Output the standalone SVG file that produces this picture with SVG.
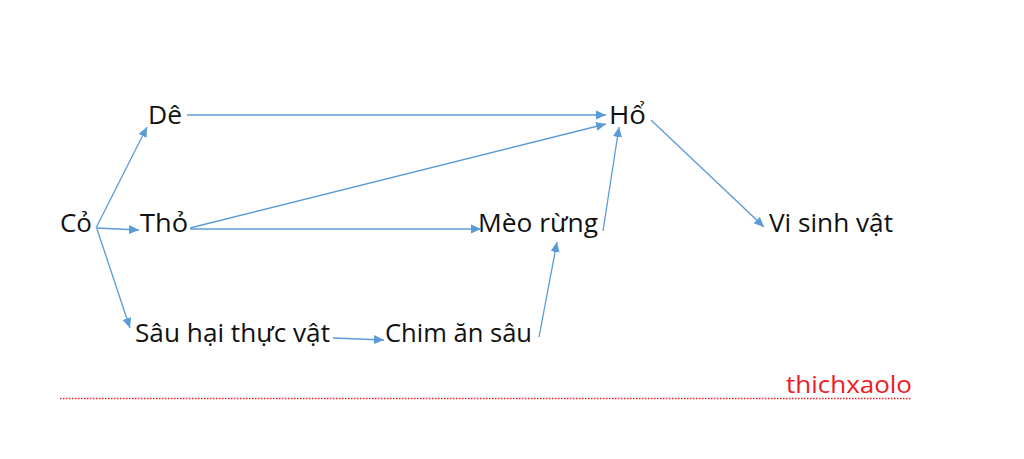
<svg xmlns="http://www.w3.org/2000/svg" width="1024" height="459" viewBox="0 0 1024 459">
<style>
text{font-family:"Open Sans","Noto Sans",sans-serif;font-size:25px;fill:#111}
.c line{stroke:#5B9BD5;stroke-width:1.3;marker-end:url(#ah)}
.w{fill:#ee1c24;font-size:23px}
</style>
<defs>
<marker id="ah" viewBox="0 0 10 10" refX="10" refY="5" markerWidth="10" markerHeight="10" markerUnits="userSpaceOnUse" orient="auto">
<path d="M0,0.5 L10,5 L0,9.5 z" fill="#5B9BD5"/>
</marker>
</defs>
<rect width="1024" height="459" fill="#fff"/>
<g id="co"><text x="60" y="232" textLength="32" lengthAdjust="spacingAndGlyphs">Cỏ</text></g>
<g id="de"><text x="148" y="124" textLength="34" lengthAdjust="spacingAndGlyphs">Dê</text></g>
<g id="tho"><text x="140" y="232" textLength="48" lengthAdjust="spacingAndGlyphs">Thỏ</text></g>
<g id="ho"><text x="609" y="124" textLength="37" lengthAdjust="spacingAndGlyphs">Hổ</text></g>
<g id="meo"><text x="478" y="232" textLength="120" lengthAdjust="spacingAndGlyphs">Mèo rừng</text></g>
<g id="vsv"><text x="769" y="232" textLength="124" lengthAdjust="spacingAndGlyphs">Vi sinh vật</text></g>
<g id="sau"><text x="135" y="342" textLength="195" lengthAdjust="spacingAndGlyphs">Sâu hại thực vật</text></g>
<g id="chim"><text x="385" y="342" textLength="147" lengthAdjust="spacingAndGlyphs">Chim ăn sâu</text></g>
<g class="c" id="connectors">
<line x1="96" y1="228" x2="147" y2="127"/>
<line x1="96" y1="228" x2="139" y2="230"/>
<line x1="97" y1="229" x2="130" y2="328"/>
<line x1="187" y1="115" x2="606" y2="115"/>
<line x1="190" y1="228" x2="606" y2="124"/>
<line x1="190" y1="229" x2="481" y2="229"/>
<line x1="603" y1="231" x2="619" y2="127"/>
<line x1="539" y1="337" x2="557" y2="242"/>
<line x1="333" y1="338" x2="384" y2="340"/>
<line x1="651" y1="120" x2="764" y2="227"/>
</g>
<g id="watermark">
<text class="w" x="786" y="393" textLength="126" lengthAdjust="spacingAndGlyphs">thichxaolo</text>
<line x1="60" y1="398.5" x2="912" y2="398.5" stroke="#ee1c24" stroke-width="1.5" stroke-dasharray="1.5 1.5"/>
</g>
</svg>
